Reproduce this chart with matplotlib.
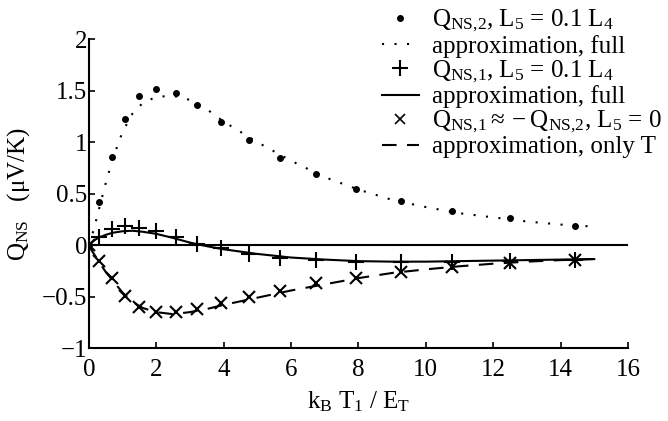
import numpy as np
import matplotlib
matplotlib.use("Agg")
import matplotlib.pyplot as plt
from matplotlib.lines import Line2D

# measured points (same temperatures for all three data sets)
x_data = [0, 0.31, 0.68, 1.07, 1.50, 2.0, 2.58, 3.22, 3.92, 4.76, 5.67, 6.74,
          7.92, 9.26, 10.77, 12.5, 14.42]
q_ns2 = [0, 0.42, 0.857, 1.22, 1.45, 1.52, 1.48, 1.36, 1.20, 1.02, 0.85, 0.69,
         0.55, 0.43, 0.33, 0.26, 0.19]
q_ns1 = [0, 0.075, 0.155, 0.19, 0.17, 0.136, 0.075, 0.007, -0.032, -0.087, -0.12, -0.146,
         -0.16, -0.165, -0.165, -0.155, -0.145]
q_ns1_l0 = [0, -0.155, -0.323, -0.49, -0.60, -0.653, -0.653, -0.624, -0.566, -0.505, -0.444, -0.372,
            -0.32, -0.26, -0.21, -0.17, -0.146]

# approximation curves
x_fit = [0, 0.1, 0.2, 0.3, 0.5, 0.7, 1.0, 1.3, 1.6, 2.0, 2.5, 3.0, 3.5, 4.0,
         5, 6, 7, 8, 9, 10, 11, 12, 13, 14, 15]
fit_ns2 = [0, 0.1, 0.22, 0.35, 0.6, 0.83, 1.1, 1.28, 1.38, 1.44, 1.45, 1.41, 1.32, 1.2,
           1.0, 0.82, 0.66, 0.54, 0.44, 0.37, 0.31, 0.27, 0.23, 0.2, 0.18]
fit_ns1 = [0, 0.03, 0.055, 0.075, 0.1, 0.12, 0.135, 0.14, 0.13, 0.11, 0.07, 0.025, -0.01, -0.04,
           -0.085, -0.12, -0.14, -0.155, -0.16, -0.16, -0.155, -0.15, -0.145, -0.14, -0.135]
fit_onlyT = [0, -0.06, -0.11, -0.16, -0.26, -0.34, -0.46, -0.55, -0.61, -0.65, -0.67, -0.65, -0.62, -0.58,
             -0.51, -0.44, -0.38, -0.32, -0.27, -0.235, -0.205, -0.18, -0.16, -0.145, -0.135]

labels = [r'$\mathrm{Q_{NS{,}2}}$, $\mathrm{L_5}$ = 0.1 $\mathrm{L_4}$',
          'approximation, full',
          r'$\mathrm{Q_{NS{,}1}}$, $\mathrm{L_5}$ = 0.1 $\mathrm{L_4}$',
          'approximation, full',
          r'$\mathrm{Q_{NS{,}1}} \approx -\mathrm{Q_{NS{,}2}}$, $\mathrm{L_5}$ = 0',
          'approximation, only T']

plt.rcParams['font.family'] = ['Liberation Serif', 'DejaVu Serif']
plt.rcParams['mathtext.fontset'] = 'custom'
plt.rcParams['mathtext.rm'] = 'Liberation Serif'
plt.rcParams['mathtext.it'] = 'Liberation Serif'
plt.rcParams['mathtext.bf'] = 'Liberation Serif:bold'
plt.rcParams['font.size'] = 18

fig = plt.figure(figsize=(6.68, 4.21), dpi=100)
ax = fig.add_axes([0.133, 0.173, 0.807, 0.734])

ax.axhline(0, color='black', lw=1.5)
ax.plot(x_fit, fit_ns2, linestyle=(0, (1, 5)), color='black', lw=1.5)
ax.plot(x_fit, fit_ns1, '-', color='black', lw=1.5)
ax.plot(x_fit, fit_onlyT, linestyle=(0, (7, 5)), color='black', lw=1.5)
ax.plot(x_data, q_ns2, 'o', color='black', ms=4, ls='none')
ax.plot(x_data, q_ns1, '+', color='black', ms=11, mew=1.5, ls='none')
ax.plot(x_data, q_ns1_l0, 'x', color='black', ms=9, mew=1.5, ls='none')

ax.set_xlim(0, 16)
ax.set_ylim(-1, 2)
ax.set_xticks(np.arange(0, 17, 2))
ax.set_yticks([-1, -0.5, 0, 0.5, 1, 1.5, 2])
ax.set_yticklabels(['\u22121', '\u22120.5', '0', '0.5', '1', '1.5', '2'])
ax.spines['top'].set_visible(False)
ax.spines['right'].set_visible(False)
ax.spines['left'].set_linewidth(1.5)
ax.spines['bottom'].set_linewidth(1.5)
ax.tick_params(axis='x', direction='in', length=4, width=1.2, pad=8)
ax.tick_params(axis='y', direction='in', length=4, width=1.2, pad=1)

ax.set_xlabel(r'$\mathrm{k_B}$ $\mathrm{T_1}$ / $\mathrm{E_T}$', labelpad=6)
ax.set_ylabel(r'$\mathrm{Q_{NS}}$   ($\mathrm{\mu}$V/K)', labelpad=7)

handles = [Line2D([], [], marker='o', ms=4, color='black', ls='none'),
           Line2D([], [], linestyle=(0, (1, 5)), color='black', lw=1.5),
           Line2D([], [], marker='+', ms=11, mew=1.5, color='black', ls='none'),
           Line2D([], [], linestyle='-', color='black', lw=1.5),
           Line2D([], [], marker='x', ms=7, mew=1.2, color='black', ls='none'),
           Line2D([], [], linestyle=(0, (7, 5)), color='black', lw=1.5)]
fig.legend(handles, labels, loc='upper right', bbox_to_anchor=(1.005, 1.005),
           frameon=False, handlelength=1.5, handletextpad=0.5, labelspacing=0.02,
           borderaxespad=0.0, fontsize=18)

fig.savefig('out.png', dpi=100)
